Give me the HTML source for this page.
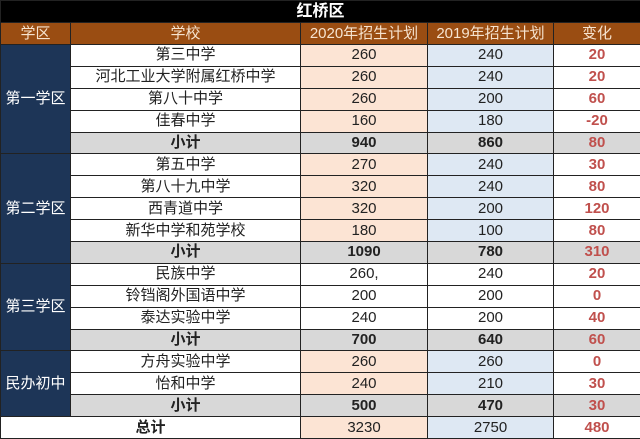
<!DOCTYPE html>
<html><head><meta charset="utf-8"><style>
html,body{margin:0;padding:0;background:#fff;}
body{width:640px;height:439px;overflow:hidden;font-family:"Liberation Sans","Noto Sans CJK SC",sans-serif;}
table{border-collapse:collapse;table-layout:fixed;width:640px;}
td{border:1px solid #222;height:20.9px;padding:0;text-align:center;font-size:15px;color:#222;line-height:20px;white-space:nowrap;overflow:hidden;}
.title td{background:#000;color:#fff;font-weight:bold;font-size:16px;height:21px;}
.hdr td{background:#9a4d12;color:#f6e3cf;height:21px;}
.dist{background:#1d3557;color:#fff;}
.o{background:#fce4d4;}
.b{background:#dee8f3;}
.w{background:#fff;}
.c{color:#c0504d;font-weight:bold;}
.sub td{background:#d8d8d8;font-weight:bold;}
.sub td.c{color:#c0504d;}
</style></head><body>
<table>
<colgroup><col style="width:70px"><col style="width:230px"><col style="width:127px"><col style="width:126px"><col style="width:87px"></colgroup>
<tr class="title"><td colspan="5">红桥区</td></tr>
<tr class="hdr"><td>学区</td><td>学校</td><td>2020年招生计划</td><td>2019年招生计划</td><td>变化</td></tr>

<tr><td rowspan="5" class="dist">第一学区</td><td>第三中学</td><td class="o">260</td><td class="b">240</td><td class="c">20</td></tr>
<tr><td>河北工业大学附属红桥中学</td><td class="o">260</td><td class="b">240</td><td class="c">20</td></tr>
<tr><td>第八十中学</td><td class="o">260</td><td class="b">200</td><td class="c">60</td></tr>
<tr><td>佳春中学</td><td class="o">160</td><td class="b">180</td><td class="c">-20</td></tr>
<tr class="sub"><td>小计</td><td>940</td><td>860</td><td class="c">80</td></tr>

<tr><td rowspan="5" class="dist">第二学区</td><td>第五中学</td><td class="o">270</td><td class="b">240</td><td class="c">30</td></tr>
<tr><td>第八十九中学</td><td class="o">320</td><td class="b">240</td><td class="c">80</td></tr>
<tr><td>西青道中学</td><td class="o">320</td><td class="b">200</td><td class="c">120</td></tr>
<tr><td>新华中学和苑学校</td><td class="o">180</td><td class="b">100</td><td class="c">80</td></tr>
<tr class="sub"><td>小计</td><td>1090</td><td>780</td><td class="c">310</td></tr>

<tr><td rowspan="4" class="dist">第三学区</td><td>民族中学</td><td class="w">260,</td><td class="w">240</td><td class="c">20</td></tr>
<tr><td>铃铛阁外国语中学</td><td class="w">200</td><td class="w">200</td><td class="c">0</td></tr>
<tr><td>泰达实验中学</td><td class="w">240</td><td class="w">200</td><td class="c">40</td></tr>
<tr class="sub"><td>小计</td><td>700</td><td>640</td><td class="c">60</td></tr>

<tr><td rowspan="3" class="dist">民办初中</td><td>方舟实验中学</td><td class="o">260</td><td class="b">260</td><td class="c">0</td></tr>
<tr><td>怡和中学</td><td class="o">240</td><td class="b">210</td><td class="c">30</td></tr>
<tr class="sub"><td>小计</td><td>500</td><td>470</td><td class="c">30</td></tr>

<tr><td colspan="2" style="font-weight:bold">总计</td><td class="o">3230</td><td class="b">2750</td><td class="c">480</td></tr>
</table>
</body></html>
